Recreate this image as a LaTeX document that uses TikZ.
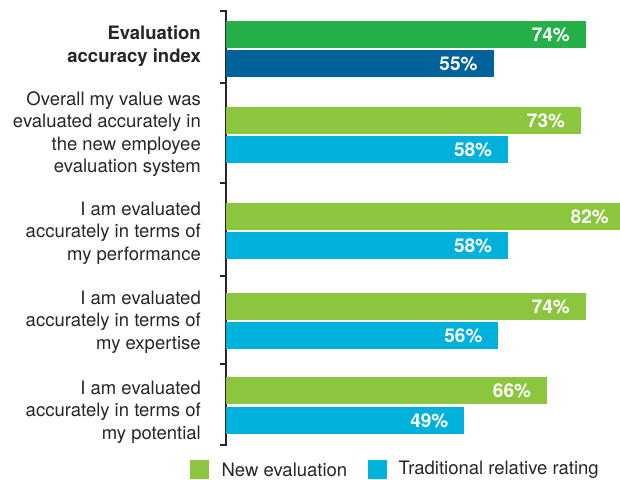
\documentclass[tikz,border=0pt]{standalone}
\usepackage{fontspec}
\setmainfont{TeX Gyre Heros}
\usetikzlibrary{positioning}
\definecolor{indexgreen}{HTML}{25B04A}
\definecolor{indexblue}{HTML}{00629B}
\definecolor{newgreen}{HTML}{8CC63F}
\definecolor{oldblue}{HTML}{00B1DB}
\definecolor{inkgray}{HTML}{262626}
\tikzset{
  valbar/.style={anchor=north west, minimum height=27pt, inner xsep=16pt,
    inner ysep=0pt, align=right, text=white,
    font=\bfseries\fontsize{19}{19}\selectfont},
  rowlabel/.style={anchor=east, inner sep=0pt, align=right, text=inkgray,
    font=\fontsize{18.5}{22.5}\selectfont},
  keybox/.style={anchor=north west, minimum size=19pt, inner sep=0pt},
  keytext/.style={inner sep=0pt, text=inkgray,
    font=\fontsize{18.5}{22.5}\selectfont}}

\begin{document}
\begin{tikzpicture}[x=1pt, y=-1pt]

    \useasboundingbox (0,0) rectangle (620,479);

    % axis with group ticks
    \draw[inkgray, line width=2pt]
      (220,11) -- (226,11) -- (226,445) -- (220,445)
      (220,83) -- (226,83)
      (220,183) -- (226,183)
      (220,276) -- (226,276)
      (220,364) -- (226,364);

    \node[rowlabel, font=\bfseries\fontsize{18.5}{22.5}\selectfont]
      (IndexLabel) at (201,46) {Evaluation\\accuracy index};
    \node[rowlabel]
      (OverallLabel) at (201,134) {Overall my value was\\evaluated accurately in\\the new employee\\evaluation system};
    \node[rowlabel]
      (PerformanceLabel) at (201,233) {I am evaluated\\accurately in terms of\\my performance};
    \node[rowlabel]
      (ExpertiseLabel) at (201,322) {I am evaluated\\accurately in terms of\\my expertise};
    \node[rowlabel]
      (PotentialLabel) at (201,412) {I am evaluated\\accurately in terms of\\my potential};

    \node[valbar, fill=indexgreen, text width=327.6pt]
      (IndexNew) at (226,21) {74\%};
    \node[valbar, fill=indexblue, text width=235.3pt]
      (IndexOld) at (226,50) {55\%};
    \node[valbar, fill=newgreen, text width=322.8pt]
      (OverallNew) at (226,107) {73\%};
    \node[valbar, fill=oldblue, text width=249.9pt]
      (OverallOld) at (226,136) {58\%};
    \node[valbar, fill=newgreen, text width=366.5pt]
      (PerformanceNew) at (226,203) {82\%};
    \node[valbar, fill=oldblue, text width=249.9pt]
      (PerformanceOld) at (226,232) {58\%};
    \node[valbar, fill=newgreen, text width=327.6pt]
      (ExpertiseNew) at (226,293) {74\%};
    \node[valbar, fill=oldblue, text width=240.2pt]
      (ExpertiseOld) at (226,322) {56\%};
    \node[valbar, fill=newgreen, text width=288.8pt]
      (PotentialNew) at (226,377) {66\%};
    \node[valbar, fill=oldblue, text width=206.1pt]
      (PotentialOld) at (226,407) {49\%};

    % legend
    \node[keybox, fill=newgreen]
      (NewKey) at (190,460) {};
    \node[keytext, right=12pt of NewKey]
      (NewText) {New evaluation};
    \node[keybox, fill=oldblue]
      (OldKey) at (368,460) {};
    \node[keytext, right=11pt of OldKey]
      (OldText) {Traditional relative rating};

  \end{tikzpicture}
\end{document}
